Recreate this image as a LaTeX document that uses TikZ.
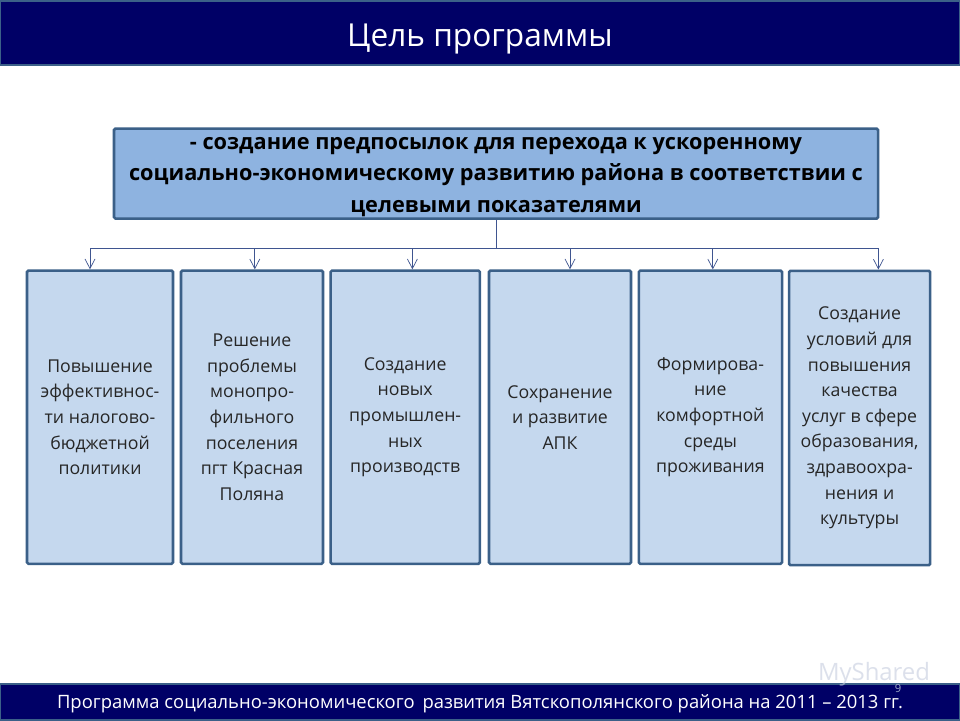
\documentclass[tikz,border=0pt]{standalone}
\usepackage{fontspec}
\setmainfont{Open Sans}
\usetikzlibrary{positioning, calc, arrows.meta}
\definecolor{navy}{HTML}{000066}
\definecolor{edge}{HTML}{3B6088}
\definecolor{topfill}{HTML}{8EB3E0}
\definecolor{goalfill}{HTML}{C5D8EE}
\definecolor{linkcol}{HTML}{3F5590}
\tikzstyle{band} = [rectangle, minimum width=24cm, fill=navy, draw=edge, line width=1.4pt, text=white, inner sep=0pt]
\tikzstyle{topbox} = [rectangle, rounded corners=1pt, minimum width=19.1cm, minimum height=2.25cm, text centered, fill=topfill, draw=edge, line width=1.8pt, font=\fontsize{15.45}{22.4}\selectfont\bfseries, inner sep=0pt, text height=1.925cm, text depth=0cm]
\tikzstyle{goal} = [rectangle, rounded corners=1pt, minimum height=7.33cm, text centered, fill=goalfill, draw=edge, line width=1.8pt, font=\fontsize{12.6}{18.2}\selectfont, text=black!85, inner sep=0pt]
\tikzstyle{arrow} = [-{Straight Barb[length=0.24cm, width=0.25cm]}, draw=linkcol, line width=0.5pt]
\begin{document}
\begin{tikzpicture}[node distance=1.5cm, align=center]
  \useasboundingbox (0,0) rectangle (24,18);
  \fill [white] (0,0) rectangle (24,18);
  %header and footer
  \node (head) [band, minimum height=1.6cm, font=\fontsize{22.5}{28}\selectfont, text height=0.7cm, text depth=0cm] at (12,17.175) {Цель программы};
  \node (foot) [band, minimum height=0.9cm, font=\fontsize{13.1}{16}\selectfont, text height=0.3cm, text depth=0cm] at (12,0.45) {Программа социально-экономического\, развития Вятскополянского района на 2011 – 2013 гг.};

  %boxes
  \node (top) [topbox] at (12.4,13.66) {- создание предпосылок для перехода к ускоренному\\социально-экономическому развитию района в соответствии с\\целевыми показателями};
  \node (box1) [goal, minimum width=3.65cm] at (2.5,7.57) {Повышение\\эффективнос-\\ти налогово-\\бюджетной\\политики};
  \node (box2) [goal, minimum width=3.55cm, right of=box1, xshift=2.3cm] {Решение\\проблемы\\монопро-\\фильного\\поселения\\пгт Красная\\Поляна};
  \node (box3) [goal, minimum width=3.73cm, right of=box2, xshift=2.33cm] {Создание\\новых\\промышлен-\\ных\\производств};
  \node (box4) [goal, minimum width=3.55cm, right of=box3, xshift=2.37cm] {Сохранение\\и развитие\\АПК};
  \node (box5) [goal, minimum width=3.58cm, right of=box4, xshift=2.26cm] {Формирова-\\ние\\комфортной\\среды\\проживания};
  \node (box6) [goal, minimum width=3.53cm, minimum height=7.36cm, right of=box5, xshift=2.23cm, yshift=-0.02cm] {Создание\\условий для\\повышения\\качества\\услуг в сфере\\образования,\\здравоохра-\\нения и\\культуры};

  %page number and stamp
  \node (num) [text=linkcol!50, font=\fontsize{8}{8}\selectfont] at (22.45,0.8) {9};
  \node (stamp) [text=linkcol!30, opacity=0.6, font=\fontsize{17}{17}\selectfont] at (21.85,1.15) {MyShared};

  %links
  \coordinate (fork) at ($(top.south) + (0,-0.72)$);
  \draw [linkcol, line width=0.5pt](top.south) -- (fork);
  \draw [arrow](fork) -| ($(box1.north) + (-0.25,0)$);
  \draw [arrow](fork) -| ($(box2.north) + (0.07,0)$);
  \draw [arrow](fork) -| ($(box3.north) + (0.18,0)$);
  \draw [arrow](fork) -| ($(box4.north) + (0.25,0)$);
  \draw [arrow](fork) -| ($(box5.north) + (0.06,0)$);
  \draw [arrow](fork) -| ($(box6.north) + (0.47,0)$);
\end{tikzpicture}
\end{document}
